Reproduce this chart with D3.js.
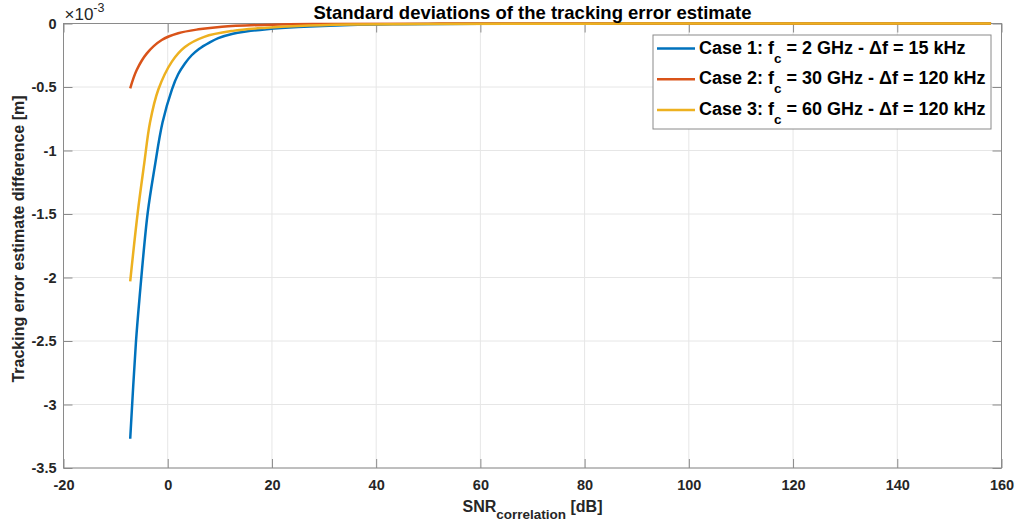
<!DOCTYPE html>
<html>
<head>
<meta charset="utf-8">
<script src="https://cdn.jsdelivr.net/npm/d3@7"></script>
<style>
  body { margin: 0; background: #fff; }
  text { font-family: "Liberation Sans", Arial, sans-serif; font-weight: bold; }
</style>
</head>
<body>
<script>
// values (y in units of 1e-3 m)
const xTicks = [-20, 0, 20, 40, 60, 80, 100, 120, 140, 160];
const yTicks = [0, -0.5, -1, -1.5, -2, -2.5, -3, -3.5];

const snr1 = [-7.2, -6.1, -5.45, -3.84, -2.5, -1, 0.8, 2, 3.3, 4.6, 6, 8, 9.7, 12.5, 15, 19, 25, 35, 45, 60, 80, 100, 158];
const val1 = [-3.27, -2.51, -2.18, -1.49, -1.13, -0.78, -0.52, -0.40, -0.315, -0.25, -0.20, -0.15, -0.115, -0.08, -0.063, -0.045, -0.028, -0.012, -0.006, -0.002, -0.001, 0, 0];

const snr2 = [-7.2, -5.95, -4, -1.15, 2, 5.9, 10.4, 20, 30, 50, 80, 158];
const val2 = [-0.51, -0.366, -0.235, -0.13, -0.077, -0.046, -0.025, -0.009, -0.004, -0.001, 0, 0];

const snr3 = [-7.2, -5.76, -4.5, -3.4, -1.8, 0.8, 3.3, 7, 12.5, 19, 25, 35, 50, 80, 100, 158];
const val3 = [-2.03, -1.49, -1.1, -0.78, -0.52, -0.30, -0.185, -0.105, -0.058, -0.033, -0.019, -0.008, -0.003, -0.001, 0, 0];

const seriesNames = ["Case 1", "Case 2", "Case 3"];
const fcLabels = ["2 GHz", "30 GHz", "60 GHz"];
const dfLabels = ["15 kHz", "120 kHz", "120 kHz"];
const colors = ["#0072BD", "#D95319", "#EDB120"];

const W = 1015, H = 524;
const margin = { top: 23.5, right: 13.5, bottom: 56, left: 63.5 };
const width = W - margin.left - margin.right;
const height = H - margin.top - margin.bottom;

const svg = d3.select("body").append("svg")
    .attr("width", W)
    .attr("height", H);

const g = svg.append("g")
    .attr("transform", `translate(${margin.left}, ${margin.top})`);

const x = d3.scaleLinear().domain([-20, 160]).range([0, width]);
const y = d3.scaleLinear().domain([-3.5, 0]).range([height, 0]);

// grid
g.selectAll(".gx").data(xTicks).enter().append("line")
    .attr("x1", d => x(d)).attr("x2", d => x(d))
    .attr("y1", 0).attr("y2", height)
    .attr("stroke", "#e6e6e6").attr("stroke-width", 1);
g.selectAll(".gy").data(yTicks).enter().append("line")
    .attr("y1", d => y(d)).attr("y2", d => y(d))
    .attr("x1", 0).attr("x2", width)
    .attr("stroke", "#e6e6e6").attr("stroke-width", 1);

// axes (ticks inward on all sides)
const axisColor = "#8a8a8a";
const tickLen = 9;
const fmt = d => String(d).replace("\u2212", "-");
function styleAxis(sel) {
    sel.select(".domain").remove();
    sel.selectAll("line").attr("stroke", axisColor);
    sel.selectAll("text").attr("fill", "#262626").style("font-size", "14.5px");
}
g.append("g").attr("transform", `translate(0, ${height})`)
    .call(d3.axisBottom(x).tickValues(xTicks).tickSize(-tickLen).tickPadding(12).tickFormat(fmt))
    .call(styleAxis);
g.append("g")
    .call(d3.axisTop(x).tickValues(xTicks).tickSize(-tickLen).tickFormat(""))
    .call(styleAxis);
g.append("g")
    .call(d3.axisLeft(y).tickValues(yTicks).tickSize(-tickLen).tickPadding(7).tickFormat(fmt))
    .call(styleAxis);
g.append("g").attr("transform", `translate(${width}, 0)`)
    .call(d3.axisRight(y).tickValues(yTicks).tickSize(-tickLen).tickFormat(""))
    .call(styleAxis);

g.append("rect")
    .attr("width", width).attr("height", height)
    .attr("fill", "none").attr("stroke", axisColor).attr("stroke-width", 1);

// curves
const line = d3.line()
    .x(d => x(d[0]))
    .y(d => y(d[1]))
    .curve(d3.curveCatmullRom.alpha(0.5));

const data = [
    d3.zip(snr1, val1),
    d3.zip(snr2, val2),
    d3.zip(snr3, val3)
];
data.forEach((pts, i) => {
    g.append("path")
        .attr("d", line(pts))
        .attr("fill", "none")
        .attr("stroke", colors[i])
        .attr("stroke-width", 2.5)
        .attr("stroke-linejoin", "round");
});

// exponent label
const ex = svg.append("text")
    .attr("x", margin.left + 1).attr("y", 20)
    .attr("fill", "#262626")
    .style("font-size", "17px").style("font-weight", "normal");
ex.append("tspan").text("\u00d710");
ex.append("tspan").attr("dy", -8).style("font-size", "12.5px").text("-3");

// title
svg.append("text")
    .attr("x", margin.left + width / 2).attr("y", 18.5)
    .attr("text-anchor", "middle")
    .attr("fill", "#000")
    .style("font-size", "18.5px")
    .text("Standard deviations of the tracking error estimate");

// x label
const xl = svg.append("text")
    .attr("x", margin.left + width / 2).attr("y", 512)
    .attr("text-anchor", "middle")
    .attr("fill", "#262626")
    .style("font-size", "16px");
xl.append("tspan").text("SNR");
xl.append("tspan").attr("dy", 7).style("font-size", "13.5px").text("correlation");
xl.append("tspan").attr("dy", -7).text(" [dB]");

// y label
svg.append("text")
    .attr("transform", "translate(24, 239) rotate(-90)")
    .attr("text-anchor", "middle")
    .attr("fill", "#262626")
    .style("font-size", "16px")
    .text("Tracking error estimate difference [m]");

// legend
const lg = svg.append("g").attr("transform", "translate(653, 35)");
lg.append("rect")
    .attr("width", 338).attr("height", 94)
    .attr("fill", "#fff").attr("stroke", "#8a8a8a").attr("stroke-width", 1);
seriesNames.forEach((name, i) => {
    const yy = 13.5 + i * 30.7;
    lg.append("line")
        .attr("x1", 4).attr("x2", 42)
        .attr("y1", yy).attr("y2", yy)
        .attr("stroke", colors[i]).attr("stroke-width", 2.5);
    const t = lg.append("text")
        .attr("x", 46).attr("y", yy + 5)
        .attr("fill", "#000")
        .style("font-size", "18px");
    t.append("tspan").text(`${name}: f`);
    t.append("tspan").attr("dy", 9).style("font-size", "13.5px").text("c");
    t.append("tspan").attr("dy", -9).text(` = ${fcLabels[i]} - \u0394f = ${dfLabels[i]}`);
});
</script>
</body>
</html>
